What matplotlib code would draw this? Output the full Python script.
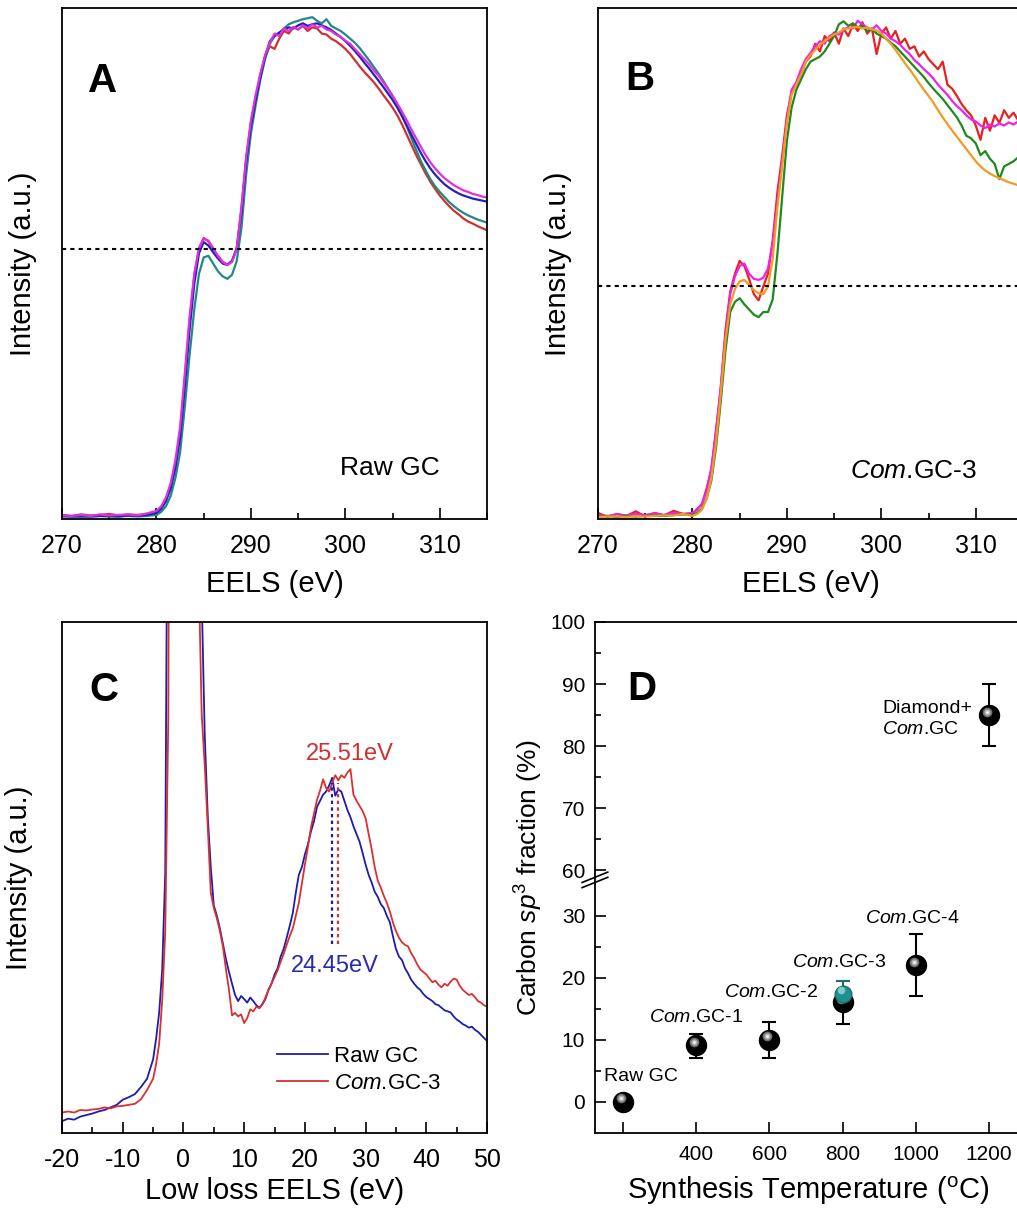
#------------------------------ libraries ------------------------------
import numpy as np
import matplotlib
matplotlib.use('Agg')
import matplotlib.pyplot as plt
from matplotlib.transforms import offset_copy

plt.rcParams['font.family'] = ['Liberation Sans', 'DejaVu Sans']
plt.rcParams['mathtext.fontset'] = 'custom'
plt.rcParams['mathtext.rm'] = 'Liberation Sans'
plt.rcParams['mathtext.it'] = 'Liberation Sans:italic'
plt.rcParams['axes.unicode_minus'] = False

#------------------------------ data: core loss EELS (A, B) ------------------------------
# energy grid, eV (baseline every 1 eV, edge region every 0.5 eV)
ev_ab = np.concatenate([np.arange(270, 280, 1.0), np.arange(280, 315.01, 0.5)])

a_red = [.008, .006, .009, .007, .008, .010, .007, .009, .008, .010,
         .014, .022, .038, .065, .105, .170, .275, .385, .475, .530, .550, .543, .528, .515, .503, .498,
         .505, .530, .610, .705, .775, .825, .870, .905, .925, .920, .940, .955, .950, .962, .958, .965,
         .955, .962, .960, .950, .948, .940, .935, .928, .920, .910, .898, .886, .875, .865, .855, .843,
         .830, .818, .805, .790, .772, .752, .732, .712, .694, .676, .660, .646, .633, .622, .612, .603,
         .596, .588, .582, .578, .573, .569, .565]
a_teal = [.005, .005, .004, .005, .006, .005, .005, .006, .005, .006,
          .008, .014, .025, .045, .080, .130, .220, .320, .410, .480, .512, .515, .500, .485, .475, .470,
          .478, .505, .570, .675, .755, .810, .860, .900, .930, .945, .950, .960, .968, .972, .975, .978,
          .980, .982, .975, .970, .978, .965, .960, .955, .948, .940, .932, .922, .910, .898, .885, .872,
          .858, .843, .828, .810, .790, .768, .745, .722, .700, .682, .665, .651, .640, .630, .620, .612,
          .605, .599, .594, .590, .586, .583, .580]
a_blue = [.006, .005, .006, .005, .006, .006, .005, .007, .006, .008,
          .012, .020, .035, .060, .100, .160, .260, .370, .460, .520, .542, .535, .522, .510, .500, .497,
          .505, .530, .600, .700, .770, .820, .865, .905, .935, .945, .952, .958, .962, .960, .966, .970,
          .965, .968, .970, .966, .962, .957, .950, .943, .935, .926, .916, .905, .893, .882, .870, .858,
          .846, .833, .820, .805, .788, .770, .752, .734, .716, .700, .686, .674, .664, .655, .648, .642,
          .637, .633, .630, .627, .625, .623, .621]
a_mag = [.007, .006, .008, .006, .009, .007, .008, .009, .007, .011,
         .016, .025, .042, .070, .115, .180, .285, .395, .480, .530, .548, .545, .530, .515, .503, .497,
         .503, .528, .610, .710, .780, .830, .872, .908, .932, .950, .945, .960, .955, .963, .958, .966,
         .960, .968, .962, .965, .958, .955, .948, .944, .936, .930, .920, .910, .900, .890, .878, .868,
         .855, .842, .828, .813, .797, .780, .762, .745, .728, .712, .698, .686, .676, .667, .660, .653,
         .648, .643, .640, .636, .634, .631, .629]
a_pistar = 0.528  # dotted reference level

b_red = [.012, .004, .010, .006, .015, .005, .012, .007, .016, .010,
         .010, .020, .028, .060, .095, .175, .255, .370, .445, .480, .505, .495, .470, .440, .428, .455,
         .480, .545, .640, .710, .790, .835, .850, .870, .895, .905, .930, .915, .945, .935, .952, .930,
         .960, .945, .968, .955, .972, .950, .960, .910, .950, .962, .940, .955, .930, .940, .920, .925,
         .905, .915, .900, .890, .880, .895, .850, .842, .828, .812, .800, .790, .770, .742, .785, .760,
         .790, .775, .800, .785, .795, .780, .790]
b_mag = [.008, .006, .009, .007, .010, .008, .011, .008, .012, .010,
         .012, .018, .030, .055, .100, .170, .260, .360, .440, .475, .495, .500, .480, .470, .468, .472,
         .490, .540, .620, .700, .780, .840, .855, .880, .900, .912, .925, .935, .930, .945, .950, .948,
         .958, .962, .960, .975, .968, .962, .958, .966, .955, .950, .940, .935, .928, .918, .910, .898,
         .890, .880, .872, .862, .850, .840, .830, .818, .808, .800, .790, .782, .778, .770, .765, .772,
         .768, .774, .770, .776, .772, .778, .775]
b_green = [.005, .006, .004, .006, .005, .006, .007, .006, .008, .009,
           .008, .012, .020, .040, .075, .140, .230, .330, .405, .425, .432, .420, .410, .400, .395, .405,
           .405, .430, .520, .630, .740, .805, .840, .860, .880, .895, .900, .905, .915, .930, .945, .968,
           .974, .965, .970, .962, .965, .955, .958, .950, .945, .940, .932, .925, .915, .905, .895, .885,
           .875, .865, .853, .842, .832, .822, .810, .798, .786, .770, .750, .745, .735, .712, .720, .705,
           .695, .665, .690, .695, .700, .708, .705]
b_orange = [.004, .005, .005, .004, .006, .005, .006, .007, .007, .010,
            .006, .010, .018, .040, .080, .150, .245, .350, .420, .450, .465, .468, .458, .448, .442, .440,
            .455, .510, .610, .690, .775, .830, .850, .870, .895, .908, .918, .928, .935, .942, .948, .952,
            .958, .960, .962, .963, .960, .962, .958, .956, .950, .940, .930, .918, .905, .892, .880, .867,
            .853, .840, .828, .815, .800, .786, .773, .760, .748, .736, .724, .712, .700, .690, .682, .676,
            .671, .667, .663, .659, .656, .653, .650]
b_pistar = 0.455

#------------------------------ data: low loss EELS (C) ------------------------------
ev_c = np.concatenate([np.arange(-20, -5.9, 1.0), np.arange(-5.5, 4.6, 0.5), np.arange(5, 50.01, 0.5)])

c_raw = [.023, .028, .026, .032, .035, .038, .042, .045, .050, .055, .065, .070, .076, .090, .106,
         .125, .144, .185, .236, .320, .510, 1.6, 3.5, 6.0, 8.0, 9.0, 9.5, 9.0, 8.0, 6.5, 4.5, 2.5,
         1.05, .78, .62, .52,
         .445, .425, .400, .370, .340, .315, .292, .270, .258, .268, .262, .255, .265, .258, .250, .245,
         .252, .262, .280, .292, .310, .322, .345, .360, .382, .405, .430, .470, .505, .520, .545, .565,
         .590, .610, .638, .650, .662, .668, .680, .695, .660, .672, .668, .650, .632, .618, .600, .585,
         .570, .548, .525, .505, .490, .472, .462, .448, .440, .425, .412, .385, .360, .345, .338, .322,
         .312, .300, .292, .285, .280, .272, .266, .262, .258, .252, .250, .245, .240, .238, .236, .228,
         .222, .218, .213, .210, .206, .208, .202, .198, .192, .186, .180]
c_com3 = [.040, .042, .040, .045, .044, .046, .047, .050, .048, .052, .053, .055, .057, .066, .084,
          .095, .106, .135, .175, .260, .395, .81, 2.5, 5.0, 7.5, 8.8, 9.3, 9.0, 7.8, 5.5, 3.0, 1.1,
          .82, .72, .60, .47,
          .440, .420, .395, .365, .320, .280, .230, .235, .228, .232, .215, .225, .242, .238, .247, .244,
          .252, .265, .280, .292, .305, .318, .335, .350, .368, .385, .400, .425, .450, .488, .525, .560,
          .598, .625, .652, .670, .692, .675, .668, .685, .700, .690, .700, .695, .705, .712, .662, .650,
          .640, .630, .616, .585, .555, .520, .494, .480, .464, .450, .433, .412, .395, .382, .373, .368,
          .365, .352, .342, .330, .320, .315, .310, .302, .295, .298, .290, .285, .292, .288, .296, .302,
          .300, .288, .280, .275, .270, .272, .266, .258, .255, .250, .247]
plasmon_raw = 24.45
plasmon_com3 = 25.51
plasmon_top = 0.685
plasmon_bot = 0.369

#------------------------------ data: sp3 fraction (D) ------------------------------
temps = [200, 400, 600, 800, 1000, 1200]
sp3 = [0.0, 9.1, 10.0, 16.0, 22.0, 85.0]
sp3_lo = [0.0, 7.0, 7.0, 12.6, 17.0, 80.0]
sp3_hi = [0.0, 11.0, 12.9, 16.0, 27.0, 90.0]
names = ['Raw GC', r'$\mathit{Com}$.GC-1', r'$\mathit{Com}$.GC-2', r'$\mathit{Com}$.GC-3',
         r'$\mathit{Com}$.GC-4', 'Diamond+\n' + r'$\mathit{Com}$.GC']
cyan_t = [800]
cyan_v = [17.4]
cyan_lo = [17.4]
cyan_hi = [19.5]

#------------------------------ figure ------------------------------
fig = plt.figure(figsize=(10.17, 12.09), dpi=100)
axA = fig.add_axes([0.061, 0.5707, 0.4179, 0.4227])
axB = fig.add_axes([0.588, 0.5707, 0.4179, 0.4227])
axC = fig.add_axes([0.061, 0.0629, 0.4179, 0.4227])
axD = fig.add_axes([0.585, 0.0629, 0.4199, 0.4227])


def style(ax, fs):
    for s in ax.spines.values():
        s.set_linewidth(1.3)
    ax.tick_params(which='major', direction='in', length=8, width=1.2, labelsize=fs, pad=10.5)
    ax.tick_params(which='minor', direction='in', length=4.5, width=1.2)


# ---- A ----
for y, c in [(a_red, '#d42f2f'), (a_teal, '#1f8a84'), (a_blue, '#2222bb'), (a_mag, '#e030e0')]:
    axA.plot(ev_ab, y, color=c, lw=1.6)
axA.axhline(a_pistar, color='black', lw=1.5, ls=(0, (2, 2)))
axA.set_xlim(270, 315)
axA.set_ylim(0, 1)
axA.set_xticks([270, 280, 290, 300, 310])
axA.set_xticks([275, 285, 295, 305, 315], minor=True)
axA.set_yticks([])
style(axA, 18)
axA.set_xlabel('EELS (eV)', fontsize=21, labelpad=9)
axA.set_ylabel('Intensity (a.u.)', fontsize=21, labelpad=18)
axA.text(0.061, 0.836, 'A', transform=axA.transAxes, fontsize=29, fontweight='bold')
axA.text(0.654, 0.10, 'Raw GC', transform=axA.transAxes, fontsize=19, va='center')

# ---- B ----
for y, c in [(b_red, '#e82020'), (b_mag, '#ee22ee'), (b_green, '#1e8a1e'), (b_orange, '#f59a20')]:
    axB.plot(ev_ab, y, color=c, lw=1.6)
axB.axhline(b_pistar, color='black', lw=1.5, ls=(0, (2, 2)))
axB.set_xlim(270, 315)
axB.set_ylim(0, 1)
axB.set_xticks([270, 280, 290, 300, 310])
axB.set_xticks([275, 285, 295, 305, 315], minor=True)
axB.set_yticks([])
style(axB, 18)
axB.set_xlabel('EELS (eV)', fontsize=21, labelpad=9)
axB.set_ylabel('Intensity (a.u.)', fontsize=21, labelpad=19)
axB.text(0.064, 0.84, 'B', transform=axB.transAxes, fontsize=29, fontweight='bold')
axB.text(0.593, 0.094, r'$\mathit{Com}$.GC-3', transform=axB.transAxes, fontsize=19, va='center')

# ---- C ----
axC.plot(ev_c, c_raw, color='#1c1cb0', lw=1.3, label='Raw GC')
axC.plot(ev_c, c_com3, color='#d93030', lw=1.3, label=r'$\mathit{Com}$.GC-3')
axC.vlines(plasmon_raw, plasmon_bot, plasmon_top, color='#1c1cb0', lw=1.6, ls=(0, (1.5, 1.5)))
axC.vlines(plasmon_com3, plasmon_bot, plasmon_top, color='#d93030', lw=1.6, ls=(0, (1.5, 1.5)))
axC.text(27.4, 0.742, '%.2feV' % plasmon_com3, color='#d03030', fontsize=17, ha='center', va='center')
axC.text(25.0, 0.327, '%.2feV' % plasmon_raw, color='#2a2ab0', fontsize=17, ha='center', va='center')
axC.set_xlim(-20, 50)
axC.set_ylim(0, 1)
axC.set_xticks(np.arange(-20, 51, 10))
axC.set_xticks(np.arange(-15, 50, 10), minor=True)
axC.set_yticks([])
style(axC, 18)
axC.set_xlabel('Low loss EELS (eV)', fontsize=21, labelpad=4)
axC.set_ylabel('Intensity (a.u.)', fontsize=21, labelpad=21)
axC.text(0.064, 0.846, 'C', transform=axC.transAxes, fontsize=29, fontweight='bold')
axC.legend(loc='upper left', bbox_to_anchor=(0.505, 0.17), frameon=False, fontsize=16,
           handlelength=2.3, handletextpad=0.3, labelspacing=0.25, borderaxespad=0, borderpad=0)

# ---- D (broken y axis through a function scale) ----
brk_v = [-100, 33.6, 60, 200]
brk_p = [-100, 33.6, 37.26, 177.26]


def fwd(v):
    return np.interp(v, brk_v, brk_p)


def inv(p):
    return np.interp(p, brk_p, brk_v)


axD.set_yscale('function', functions=(fwd, inv))
err = [np.subtract(sp3, sp3_lo), np.subtract(sp3_hi, sp3)]
axD.errorbar(temps, sp3, yerr=err, fmt='none', ecolor='black', elinewidth=1.5, capsize=4.7,
             capthick=1.5, zorder=2)
axD.plot(temps, sp3, 'o', ms=14.4, color='black', mec='black', zorder=3)
hl = offset_copy(axD.transData, fig=fig, x=-2, y=3.5, units='dots')
axD.plot(temps, sp3, 'o', ms=7, color='#6e6e6e', mec='none', transform=hl, zorder=4)
axD.plot(temps, sp3, 'o', ms=4.5, color='#b4b4b4', mec='none', transform=hl, zorder=4)
axD.plot(temps, sp3, 'o', ms=2, color='#f4f4f4', mec='none', transform=hl, zorder=4)

cerr = [np.subtract(cyan_v, cyan_lo), np.subtract(cyan_hi, cyan_v)]
axD.errorbar(cyan_t, cyan_v, yerr=cerr, fmt='none', ecolor='#1d6f6f', elinewidth=1.5, capsize=4.7,
             capthick=1.5, zorder=5)
axD.plot(cyan_t, cyan_v, 'o', ms=12, color='#1f9090', mec='#1a7070', zorder=6)
axD.plot(cyan_t, cyan_v, 'o', ms=5.5, color='#7fcaca', mec='none', transform=hl, zorder=7)

# label offsets in pixels from each point
offs = [(18, 25, 'center'), (0, 28, 'center'), (2, 47, 'center'), (-3, 40, 'center'),
        (-3, 47, 'center'), (-107, -4, 'left')]
for t, v, n, (dx, dy, ha) in zip(temps, sp3, names, offs):
    axD.annotate(n, (t, v), xytext=(dx, dy), textcoords='offset pixels', fontsize=14,
                 ha=ha, va='center', linespacing=1.3)

bt = axD.get_yaxis_transform()
for y0, y1 in [(40, 52), (46, 58)]:
    axD.plot([-0.03, 0.03], [y0, y1], color='black', lw=1.2, transform=bt, clip_on=False)

axD.set_xlim(124, 1290)
axD.set_ylim(-5, 100)
axD.set_xticks(temps)
axD.set_xticklabels([''] + [str(t) for t in temps[1:]])
axD.set_yticks([0, 10, 20, 30, 60, 70, 80, 90, 100])
axD.set_yticks([5, 15, 25, 65, 75, 85, 95], minor=True)
axD.set_yticklabels(['0', '10', '20', '30', '60', '70', '80', '90', '100'])
style(axD, 15)
axD.tick_params(axis='x', pad=9)
axD.tick_params(axis='y', pad=7)
axD.set_xlabel(r'Synthesis Temperature ($^{\rm o}$C)', fontsize=21, labelpad=7)
axD.set_ylabel(r'Carbon $\mathit{sp}^3$ fraction (%)', fontsize=19)
axD.yaxis.set_label_coords(-0.118, 0.5)
axD.text(0.075, 0.848, 'D', transform=axD.transAxes, fontsize=29, fontweight='bold')

plt.savefig('out.png', dpi=100)
